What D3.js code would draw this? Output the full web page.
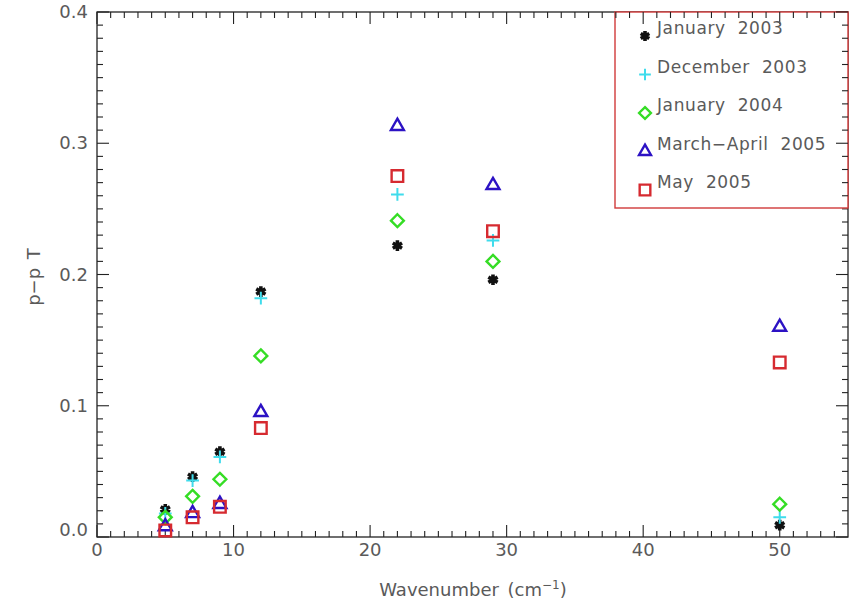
<!DOCTYPE html>
<html><head><meta charset="utf-8">
<script src="https://cdn.jsdelivr.net/npm/d3@7"></script>
<style>
body{margin:0;background:#fff;}
text{font-family:"DejaVu Sans",sans-serif;fill:#5a5a5a;}
</style></head>
<body><svg id="c" width="851" height="607"></svg>
<script>
const wavenumbers = [5, 7, 9, 12, 22, 29, 50];
const seriesNames = ["January 2003", "December 2003", "January 2004", "March\u2212April 2005", "May 2005"];
const jan2003 = [0.021, 0.046, 0.065, 0.187, 0.222, 0.196, 0.009];
const dec2003 = [0.018, 0.043, 0.061, 0.182, 0.261, 0.226, 0.015];
const jan2004 = [0.015, 0.031, 0.044, 0.138, 0.241, 0.210, 0.025];
const marApr2005 = [0.008, 0.018, 0.025, 0.095, 0.313, 0.268, 0.160];
const may2005 = [0.005, 0.015, 0.023, 0.083, 0.275, 0.233, 0.133];
const xTicks = [0, 10, 20, 30, 40, 50];
const yTicks = [0.0, 0.1, 0.2, 0.3, 0.4];

const seriesValues = [jan2003, dec2003, jan2004, marApr2005, may2005];
const colors = ["#111111", "#3fdcec", "#35dd25", "#2c12c4", "#d62a30"];
const symbols = [d3.symbolAsterisk, d3.symbolPlus, d3.symbolDiamond2, d3.symbolTriangle2, d3.symbolSquare2];
const symSizes = [80, 55, 105, 120, 170];
const symStroke = [3.6, 2, 2.4, 2.4, 2.4];

const svg = d3.select("#c");
const L = 97, R = 848, T = 12, B = 537;
const x = d3.scaleLinear().domain([0, 55]).range([L, R]);
const y = d3.scaleLinear().domain([0, 0.4]).range([B, T]);

const axColor = "#222";
svg.append("rect").attr("x", L).attr("y", T).attr("width", R - L).attr("height", B - T)
  .attr("fill", "none").attr("stroke", axColor).attr("stroke-width", 1.3);

const minorX = d3.range(1, 55, 1).filter(v => v % 10 !== 0);
const minorY = d3.range(1, 40, 1).filter(v => v % 10 !== 0).map(v => v / 100);
const tk = svg.append("g").attr("stroke", axColor).attr("stroke-width", 1.1);
xTicks.forEach(v => {
  tk.append("line").attr("x1", x(v)).attr("x2", x(v)).attr("y1", B).attr("y2", B - 12);
  tk.append("line").attr("x1", x(v)).attr("x2", x(v)).attr("y1", T).attr("y2", T + 12);
});
minorX.forEach(v => {
  tk.append("line").attr("x1", x(v)).attr("x2", x(v)).attr("y1", B).attr("y2", B - 6);
  tk.append("line").attr("x1", x(v)).attr("x2", x(v)).attr("y1", T).attr("y2", T + 6);
});
yTicks.forEach(v => {
  tk.append("line").attr("y1", y(v)).attr("y2", y(v)).attr("x1", L).attr("x2", L + 12);
  tk.append("line").attr("y1", y(v)).attr("y2", y(v)).attr("x1", R).attr("x2", R - 12);
});
minorY.forEach(v => {
  tk.append("line").attr("y1", y(v)).attr("y2", y(v)).attr("x1", L).attr("x2", L + 6);
  tk.append("line").attr("y1", y(v)).attr("y2", y(v)).attr("x1", R).attr("x2", R - 6);
});

svg.append("g").selectAll("text").data(xTicks).join("text")
  .attr("x", d => x(d)).attr("y", 556).attr("text-anchor", "middle")
  .attr("font-size", 18).text(d => d3.format("d")(d));
svg.append("g").selectAll("text").data(yTicks).join("text")
  .attr("x", 88).attr("y", d => d === 0 ? y(d) - 1 : y(d) + 6).attr("text-anchor", "end")
  .attr("font-size", 18).text(d => d3.format(".1f")(d));

const xt = svg.append("text").attr("x", 473).attr("y", 596).attr("text-anchor", "middle").attr("font-size", 18)
  .attr("word-spacing", 3);
xt.append("tspan").text("Wavenumber (cm");
xt.append("tspan").attr("dy", -7).attr("font-size", 12).text("\u22121");
xt.append("tspan").attr("dy", 7).text(")");
svg.append("text").attr("transform", "translate(40,277) rotate(-90)")
  .attr("text-anchor", "middle").attr("font-size", 18).attr("word-spacing", 3).text("p\u2212p T");

seriesValues.forEach((vals, i) => {
  svg.append("g").selectAll("path").data(vals).join("path")
    .attr("transform", (d, j) => `translate(${x(wavenumbers[j])},${y(d)})`)
    .attr("d", d3.symbol(symbols[i], symSizes[i]))
    .attr("fill", "none").attr("stroke", colors[i]).attr("stroke-width", symStroke[i]);
});

const lg = svg.append("g");
lg.append("rect").attr("x", 615).attr("y", T).attr("width", R - 615).attr("height", 208 - T)
  .attr("fill", "#fff").attr("stroke", "#d03a3a").attr("stroke-width", 1.4);
xTicks.concat(minorX).filter(v => x(v) > 615).forEach(v => {
  lg.append("line").attr("x1", x(v)).attr("x2", x(v)).attr("y1", T).attr("y2", T + (v % 10 === 0 ? 12 : 6)).attr("stroke", axColor).attr("stroke-width", 1.1);
});
yTicks.concat(minorY).filter(v => y(v) < 208).forEach(v => {
  lg.append("line").attr("y1", y(v)).attr("y2", y(v)).attr("x1", R).attr("x2", R - (Math.round(v * 100) % 10 === 0 ? 12 : 6)).attr("stroke", axColor).attr("stroke-width", 1.1);
});
seriesNames.forEach((name, i) => {
  const cy = 36 + i * 38.5;
  lg.append("path").attr("transform", `translate(645,${cy})`)
    .attr("d", d3.symbol(symbols[i], symSizes[i] * 0.85))
    .attr("fill", "none").attr("stroke", colors[i]).attr("stroke-width", symStroke[i]);
  lg.append("text").attr("x", 657).attr("y", cy - 2).attr("font-size", 17)
    .attr("letter-spacing", 0.6).attr("word-spacing", 6).text(name);
});
</script></body></html>
